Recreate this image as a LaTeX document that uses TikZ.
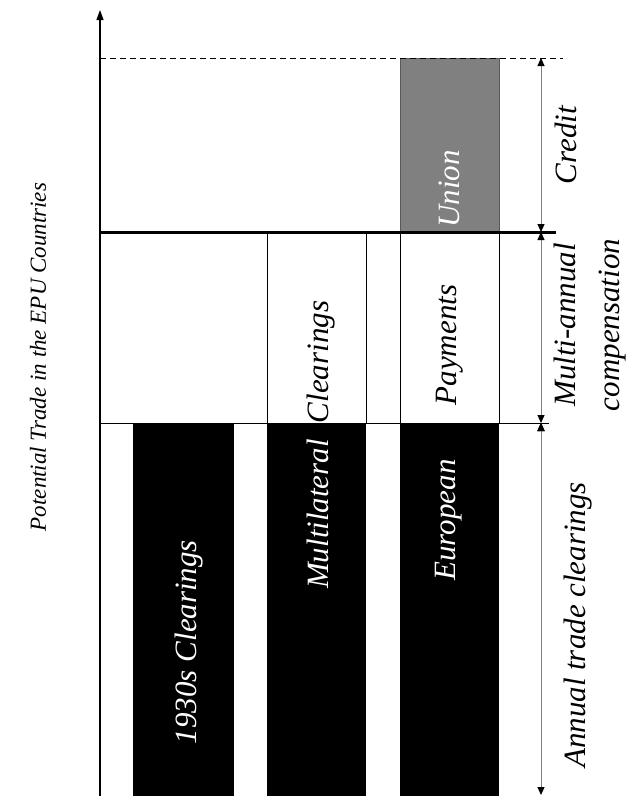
\documentclass[tikz,border=0pt]{standalone}
\usepackage{fontspec}
\setmainfont{Liberation Serif}
\usetikzlibrary{positioning,arrows.meta}

\tikzset{
  bar/.style={fill=black},
  box/.style={draw,line width=0.8pt},
  lbl/.style={rotate=90,inner sep=0pt,font=\fontsize{31}{44}\selectfont\itshape},
  dim/.style={draw=gray,line width=1pt,{Triangle[color=black,length=8pt,width=7pt]}-{Triangle[color=black,length=8pt,width=7pt]}}
}

\begin{document}
\begin{tikzpicture}[x=1pt,y=-1pt]
\useasboundingbox (0,0) rectangle (626,796);

\coordinate (top) at (541,58);
\coordinate (mid) at (541,232);
\coordinate (low) at (541,423);
\coordinate (end) at (541,795);

\fill[bar] (133,423) rectangle (234,796);
\fill[bar] (267,423) rectangle (366,796);
\fill[bar] (400,423) rectangle (499,796);
\filldraw[fill=gray,draw=gray!70!black] (400,58) rectangle (499,232);
\draw[box] (267,232) rectangle (366,423);
\draw[box] (400,232) rectangle (499,423);

\draw[dash pattern=on 6pt off 4pt,line width=0.8pt] (100,58) -- (563,58);
\draw[line width=3pt] (100,232) -- (556,232);
\draw[line width=0.8pt] (100,423) -- (549,423);
\draw[line width=1.2pt,-{Triangle[length=10pt,width=7pt]}] (100,796) -- (100,10);

\path[dim]
(top) edge (mid)
(mid) edge (low)
(low) edge (end);

\node[lbl,font=\fontsize{23}{28}\selectfont\itshape] (pot) at (38,357) {Potential Trade in the EPU Countries};
\node[lbl] (cr) at (566,145) {Credit};
\node[lbl,align=center] (ma) at (590,325) {Multi-annual\\compensation};
\node[lbl] (an) at (578,625) {Annual trade clearings};

\node[lbl,text=white] (un) at (449,189) {Union};
\node[lbl] (pay) at (450,345) {Payments};
\node[lbl] (clr) at (321,362) {Clearings};
\node[lbl,text=white] (mul) at (318,514) {Multilateral};
\node[lbl,text=white] (eur) at (449,520) {European};
\node[lbl,text=white] (c30) at (189,642) {1930s Clearings};

\end{tikzpicture}
\end{document}
